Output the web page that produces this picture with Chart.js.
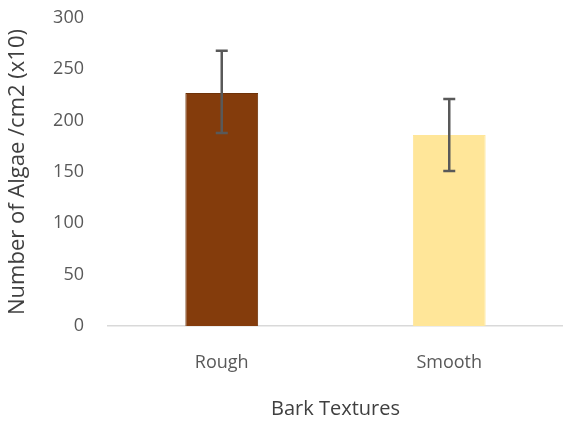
<!DOCTYPE html>
<html lang="en">
<head>
    <meta charset="UTF-8">
    <title>Algae on Bark Textures</title>
    <script src="https://cdn.jsdelivr.net/npm/chart.js"></script>
    <style>
        html, body { margin: 0; padding: 0; background: #fff; }
        .chart-container { width: 563px; height: 421px; position: relative; }
    </style>
</head>
<body>
    <div class="chart-container">
        <canvas id="algaeChart"></canvas>
    </div>

    <script>
        const categories = ['Rough', 'Smooth'];
        const algaeMeans = [227, 186];
        const errorLow = [188, 151];
        const errorHigh = [268, 221];
        const barColors = ['#843C0C', '#FFE699'];
        const yTicks = [0, 50, 100, 150, 200, 250, 300];

        const fontFamily = "'Open Sans', 'Liberation Sans', sans-serif";

        // draws the whiskers on top of the bars
        const errorBars = {
            id: 'errorBars',
            afterDatasetsDraw(chart) {
                const ctx = chart.ctx;
                const yScale = chart.scales.y;
                const meta = chart.getDatasetMeta(0);
                ctx.save();
                ctx.strokeStyle = '#595959';
                ctx.lineWidth = 2.5;
                meta.data.forEach((bar, i) => {
                    const x = bar.x;
                    const top = yScale.getPixelForValue(errorHigh[i]);
                    const bottom = yScale.getPixelForValue(errorLow[i]);
                    ctx.beginPath();
                    ctx.moveTo(x, top);
                    ctx.lineTo(x, bottom);
                    ctx.moveTo(x - 6, top);
                    ctx.lineTo(x + 6, top);
                    ctx.moveTo(x - 6, bottom);
                    ctx.lineTo(x + 6, bottom);
                    ctx.stroke();
                });
                ctx.restore();
            }
        };

        const ctx = document.getElementById('algaeChart').getContext('2d');
        const chart = new Chart(ctx, {
            type: 'bar',
            data: {
                labels: categories,
                datasets: [{
                    label: 'Number of Algae',
                    data: algaeMeans,
                    backgroundColor: barColors,
                    borderColor: ['#6E3209', '#FFE699'],
                    borderWidth: 1,
                    categoryPercentage: 1.0,
                    barPercentage: 0.32
                }]
            },
            options: {
                responsive: true,
                maintainAspectRatio: false,
                animation: false,
                layout: {
                    padding: { top: 18, left: 0, right: 0, bottom: 0 }
                },
                plugins: {
                    legend: { display: false },
                    tooltip: { enabled: false }
                },
                scales: {
                    x: {
                        grid: { display: false, drawTicks: false },
                        border: { color: '#D9D9D9', width: 1.5 },
                        ticks: {
                            color: '#595959',
                            padding: 26,
                            font: { family: fontFamily, size: 18 }
                        },
                        title: {
                            display: true,
                            text: 'Bark Textures',
                            color: '#404040',
                            padding: { top: 20, bottom: 0 },
                            font: { family: fontFamily, size: 20 }
                        },
                        afterFit(scale) {
                            scale.height = 95;
                            scale.paddingLeft = 0;
                            scale.paddingRight = 0;
                        }
                    },
                    y: {
                        min: 0,
                        max: 300,
                        afterBuildTicks(scale) {
                            scale.ticks = yTicks.map(v => ({ value: v }));
                        },
                        grid: { display: false, drawTicks: false },
                        border: { display: false },
                        ticks: {
                            color: '#595959',
                            padding: 24,
                            font: { family: fontFamily, size: 18 }
                        },
                        title: {
                            display: true,
                            text: 'Number of Algae /cm2 (x10)',
                            color: '#404040',
                            padding: { top: 5, bottom: 0 },
                            font: { family: fontFamily, size: 22 }
                        },
                        afterFit(scale) {
                            scale.width = 108;
                            scale.paddingTop = 0;
                            scale.paddingBottom = 0;
                        }
                    }
                }
            },
            plugins: [errorBars]
        });
    </script>
</body>
</html>
